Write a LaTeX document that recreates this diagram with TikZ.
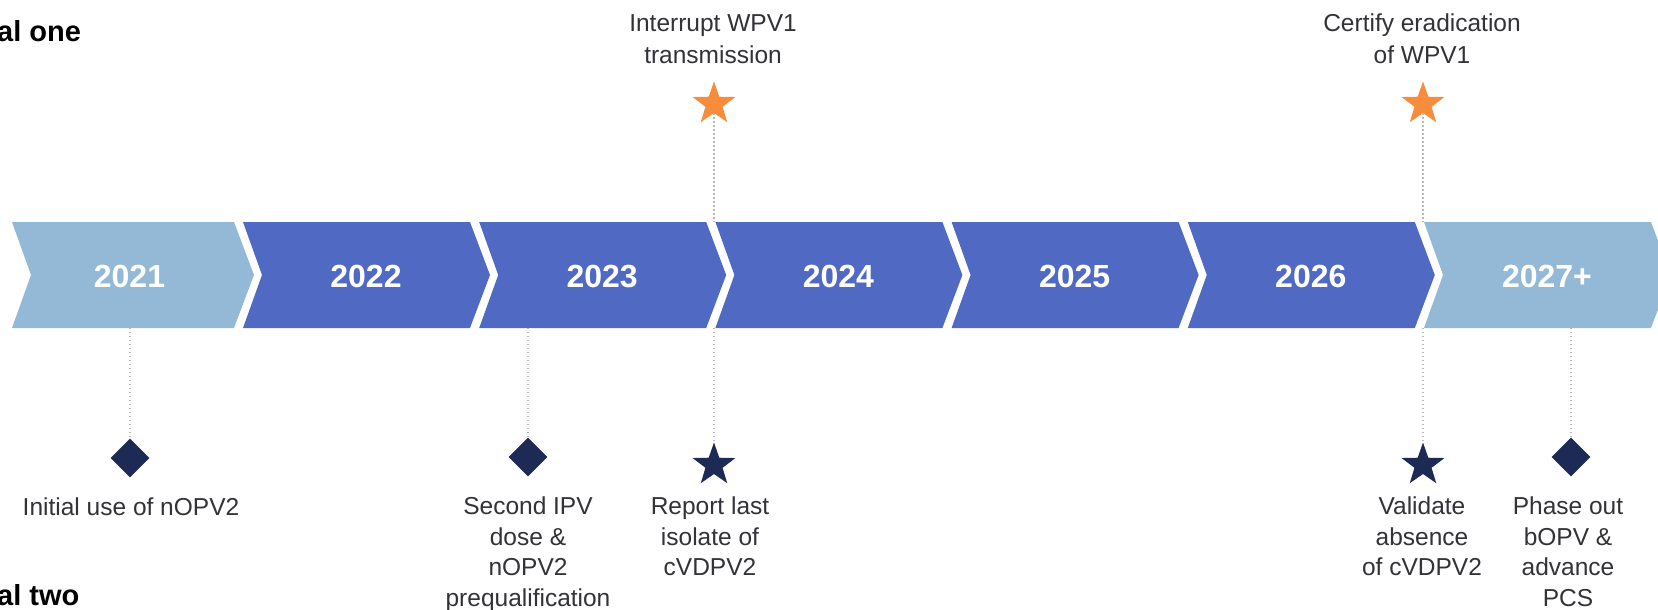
\documentclass[tikz,border=0pt]{standalone}
\usepackage{fontspec}
\setmainfont{Liberation Sans}
\usetikzlibrary{shapes.geometric}
\definecolor{lightchev}{RGB}{148,185,214}
\definecolor{darkchev}{RGB}{80,105,194}
\definecolor{orangestar}{RGB}{247,141,59}
\definecolor{navy}{RGB}{29,42,86}
\definecolor{labeltext}{RGB}{50,50,55}
\definecolor{dotgray}{RGB}{185,185,185}
\newcommand\mychevron[3]{%
  \fill[#3] (#1,222) -- (#2,222) -- ({#2+20},275) -- (#2,328) -- (#1,328) -- ({#1+19},275) -- cycle;}
\begin{document}
\begin{tikzpicture}[x=1pt,y=-1pt,
  yearlabel/.style={text=white, font=\fontsize{32}{36}\selectfont\bfseries, inner sep=0, anchor=base},
  milestone/.style={text=labeltext, font=\fontsize{24.5}{30.5}\selectfont, align=center, inner sep=0, anchor=north},
  topmilestone/.style={milestone, font=\fontsize{24.5}{32}\selectfont},
  goalstar/.style={star, star points=5, star point ratio=2.5, minimum size=45pt, inner sep=0, fill=orangestar, draw=none},
  navystar/.style={goalstar, fill=navy},
  navydiamond/.style={diamond, aspect=1, minimum width=39pt, minimum height=39pt, inner sep=0, fill=navy},
  leader/.style={draw=dotgray, line width=1.2pt, dash pattern=on 1.4pt off 2.6pt},
  goaltitle/.style={font=\fontsize{29}{34}\selectfont\bfseries, text=black, inner sep=0, anchor=base west}
]
\clip (0,0) rectangle (1658,610);
\fill[white] (0,0) rectangle (1658,610);

% chevrons
\mychevron{12}{234}{lightchev}
\mychevron{243}{470}{darkchev}
\mychevron{479.2}{706.2}{darkchev}
\mychevron{715.4}{942.4}{darkchev}
\mychevron{951.6}{1178.6}{darkchev}
\mychevron{1187.8}{1414.8}{darkchev}
\mychevron{1424}{1651}{lightchev}

% years
\node[yearlabel] (y2021) at (129.5,287) {2021};
\node[yearlabel] (y2022) at (366,287) {2022};
\node[yearlabel] (y2023) at (602.2,287) {2023};
\node[yearlabel] (y2024) at (838.4,287) {2024};
\node[yearlabel] (y2025) at (1074.6,287) {2025};
\node[yearlabel] (y2026) at (1310.8,287) {2026};
\node[yearlabel] (y2027) at (1547,287) {2027+};

% goal titles
\node[goaltitle] (goalone) at (-3,42) {al one};
\node[goaltitle] (goaltwo) at (-3,605) {al two};

% top milestones
\node[goalstar] (interrupt) at (714,104) {};
\node[goalstar] (certify) at (1423,104) {};
\node[topmilestone] (interruptlbl) at (713,14) {Interrupt WPV1\\transmission};
\node[topmilestone] (certifylbl) at (1422,14) {Certify eradication\\of WPV1};
\coordinate (t3) at (714,222);
\coordinate (t6) at (1423,222);
\draw[leader] (interrupt) -- (t3);
\draw[leader] (certify) -- (t6);

% bottom milestones
\coordinate (b1) at (130,328);
\coordinate (b2) at (528,328);
\coordinate (b3) at (714,328);
\coordinate (b4) at (1423,328);
\coordinate (b5) at (1571,328);
\node[navydiamond] (initial) at (130,458) {};
\node[navydiamond] (second) at (528,457) {};
\node[navystar] (report) at (714,465) {};
\node[navystar] (validate) at (1423,465) {};
\node[navydiamond] (phase) at (1571,457) {};
\draw[leader] (b1) -- (initial);
\draw[leader] (b2) -- (second);
\draw[leader] (b3) -- (report);
\draw[leader] (b4) -- (validate);
\draw[leader] (b5) -- (phase);

\node[milestone] (initiallbl) at (131,498) {Initial use of nOPV2};
\node[milestone] (secondlbl) at (528,497) {Second IPV\\dose \&\\nOPV2\\prequalification};
\node[milestone] (reportlbl) at (710,497) {Report last\\isolate of\\cVDPV2};
\node[milestone] (validatelbl) at (1422,497) {Validate\\absence\\of cVDPV2};
\node[milestone] (phaselbl) at (1568,497) {Phase out\\bOPV \&\\advance\\PCS};
\end{tikzpicture}
\end{document}
